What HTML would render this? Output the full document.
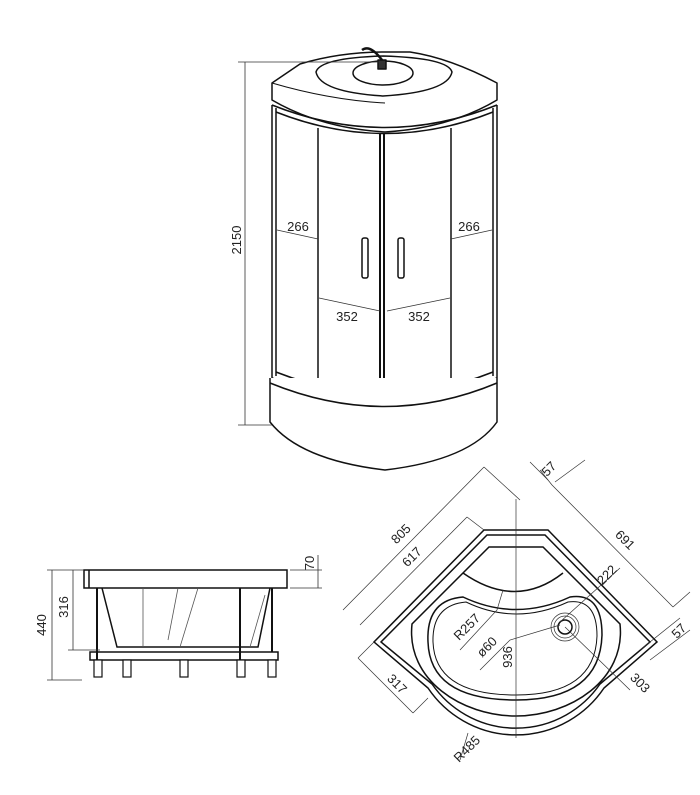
<!DOCTYPE html>
<html><head><meta charset="utf-8"><style>
html,body{margin:0;padding:0;background:#fff;}
svg{display:block;}
text{font-family:"Liberation Sans",sans-serif;font-size:13px;fill:#222;}
</style></head><body>
<svg width="700" height="795" viewBox="0 0 700 795" xmlns="http://www.w3.org/2000/svg">
<g fill="none" stroke="#111" stroke-width="1.5" stroke-linejoin="round">
<!-- canopy -->
<path d="M272,83 L300,64 Q340,52 385,52 L410,52 Q450,58 497,83 L497,100 Q450,128 385,132 Q320,128 272,100 Z" fill="#fff"/>
<path d="M272,100 L272,83 Q330,100 385,103" stroke-width="1"/>
<path d="M316,72 Q320,58 383,56 Q448,58 452,72 Q448,92 383,96 Q320,92 316,72 Z"/>
<ellipse cx="383" cy="73" rx="30" ry="12"/>
<path d="M362,50 Q370,44 382,60" stroke-width="2.5"/>
<rect x="378" y="60" width="8" height="9" fill="#333"/>
<!-- frame -->
<path d="M272,105 L272,378 M276,108 L276,376 M497,105 L497,378 M493,108 L493,376"/>
<path d="M272,105 Q385,150 497,105 M276,112 Q385,155 493,112" />
<path d="M318,128 L318,392 M451,128 L451,392"/>
<path d="M380,133 L380,398 M384,133 L384,398" stroke-width="2"/>
<path d="M276,372 Q385,415 493,372 M272,378 Q385,420 497,378"/>
<!-- base -->
<path d="M270,378 L270,422 Q300,460 385,470 Q470,460 497,422 L497,378" fill="#fff"/>
<path d="M270,383 Q385,430 497,383"/>
<!-- handles -->
<rect x="362" y="238" width="6" height="40" rx="2"/>
<rect x="398" y="238" width="6" height="40" rx="2"/>
</g>
<g fill="none" stroke="#333" stroke-width="0.8">
<path d="M245,62 L245,425 M238,62 L380,62 M238,425 L272,425"/>
<path d="M277,230 L318,239 M451,239 L492,230 M319,298 L380,311 M387,311 L450,298"/>
</g>
<text transform="translate(241,240) rotate(-90)" text-anchor="middle">2150</text>
<text x="298" y="231" text-anchor="middle">266</text>
<text x="469" y="231" text-anchor="middle">266</text>
<text x="347" y="321" text-anchor="middle">352</text>
<text x="419" y="321" text-anchor="middle">352</text>

<!-- plan view -->
<g fill="none" stroke="#111" stroke-width="1.5">
<path d="M484,530 L548,530 L657,642 L604,688 A106,106 0 0 1 428,688 L374,642 Z"/>
<path d="M487,535 L545,535 L650,642 L600,684 A102,102 0 0 1 432,684 L381,642 Z"/>
<path d="M489,547 L543,547 L620,624 C626,680 570,716 516,716 C462,716 406,680 412,624 Z"/>
<path d="M463,573 Q516,610 563,573"/>
<path d="M463,597 Q516,622 570,597 Q602,592 602,635 Q600,700 516,700 Q430,700 428,642 Q426,600 463,597 Z"/>
<path d="M466,602 Q516,626 568,602 Q597,598 597,636 Q595,695 516,695 Q435,695 433,642 Q432,605 466,602 Z" stroke-width="1"/>
<circle cx="565" cy="627" r="7"/>
</g>
<g fill="none" stroke="#333" stroke-width="0.7">
<circle cx="565" cy="627" r="11"/><circle cx="565" cy="627" r="14"/>
<path d="M516,499 L516,738"/>
<path d="M343,610 L484,467 M360,625 L467,517 M467,517 L484,530 M484,467 L520,500"/>
<path d="M552,485 L673,607 M552,485 L540,470 M673,607 L690,592"/>
<path d="M358,658 L413,713 M358,658 L374,642 M413,713 L428,698"/>
<path d="M530,462 L548,480 M555,482 L585,460 M650,660 L690,630 M640,650 L680,618"/>
<path d="M620,568 L560,622 M565,627 L630,690 M503,590 L497,610 L460,650 M560,625 L510,640 L480,670 M468,733 L460,760"/>
</g>
<text transform="translate(552,472) rotate(-45)" text-anchor="middle">57</text>
<text transform="translate(404,537) rotate(-45)" text-anchor="middle">805</text>
<text transform="translate(415,560) rotate(-45)" text-anchor="middle">617</text>
<text transform="translate(622,543) rotate(45)" text-anchor="middle">691</text>
<text transform="translate(682,634) rotate(-45)" text-anchor="middle">57</text>
<text transform="translate(610,578) rotate(-45)" text-anchor="middle">222</text>
<text transform="translate(637,686) rotate(45)" text-anchor="middle">303</text>
<text transform="translate(394,687) rotate(45)" text-anchor="middle">317</text>
<text transform="translate(470,630) rotate(-45)" text-anchor="middle">R257</text>
<text transform="translate(490,650) rotate(-45)" text-anchor="middle">ø60</text>
<text transform="translate(512,657) rotate(-90)" text-anchor="middle">936</text>
<text transform="translate(470,752) rotate(-45)" text-anchor="middle">R485</text>

<!-- side view -->
<g fill="none" stroke="#111" stroke-width="1.5">
<rect x="84" y="570" width="203" height="18"/>
<path d="M89,570 L89,588"/>
<path d="M102,588 L117,647 L258,647 L270,588"/>
<rect x="90" y="652" width="188" height="8"/>
<path d="M97,588 L97,660 M240,588 L240,660 M272,588 L272,652" stroke-width="2"/>
</g>
<g fill="none" stroke="#555" stroke-width="0.8">
<path d="M143,588 L143,647 M198,588 L180,647 M178,588 L168,640 M265,595 L250,647"/>
</g>
<g fill="#fff" stroke="#111" stroke-width="1.2">
<rect x="94" y="660" width="8" height="17"/><rect x="123" y="660" width="8" height="17"/>
<rect x="180" y="660" width="8" height="17"/><rect x="237" y="660" width="8" height="17"/>
<rect x="268" y="660" width="8" height="17"/>
</g>
<g fill="none" stroke="#333" stroke-width="0.8">
<path d="M52,570 L52,680 M47,570 L84,570 M47,680 L82,680 M73,570 L73,650 M68,650 L100,650 M318,555 L318,588 M290,570 L322,570 M290,588 L322,588"/>
</g>
<text transform="translate(46,625) rotate(-90)" text-anchor="middle">440</text>
<text transform="translate(68,607) rotate(-90)" text-anchor="middle">316</text>
<text transform="translate(314,563) rotate(-90)" text-anchor="middle">70</text>
</svg>
</body></html>
